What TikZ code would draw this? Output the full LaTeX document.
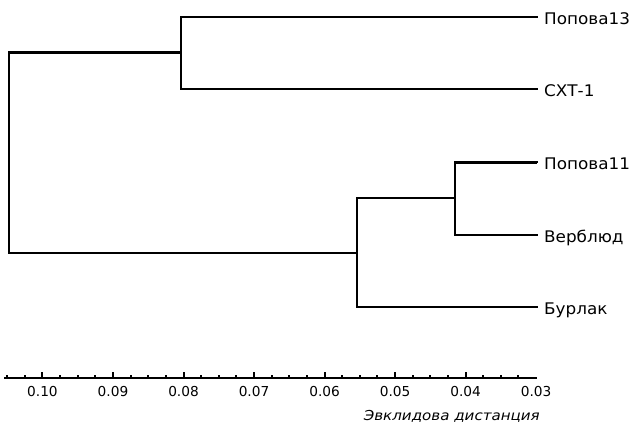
\documentclass[tikz,border=0pt]{standalone}
\usepackage{fontspec}
\newfontfamily\leaffont[FakeStretch=1.05]{DejaVu Sans}
\newfontfamily\axisfont{DejaVu Sans}
\newfontfamily\titlefont[FakeStretch=1.1]{DejaVu Sans}
\begin{document}
\begin{tikzpicture}[x=1pt,y=-1pt,
  br/.style={line width=2pt, line cap=rect},
  brthick/.style={line width=3pt, line cap=butt},
  axisline/.style={line width=2pt},
  tickline/.style={line width=2pt},
  leaf/.style={anchor=base west, inner sep=0pt, font=\leaffont\fontsize{16}{19}\selectfont},
  ticklabel/.style={anchor=base, inner sep=0pt, font=\axisfont\fontsize{13.7}{16}\selectfont},
  axtitle/.style={anchor=base east, inner sep=0pt, font=\titlefont\itshape\fontsize{13.7}{16}\selectfont}]
\useasboundingbox (0,0) rectangle (634,427);

% leaf ends
\coordinate (e13) at (537,17);
\coordinate (eCXT) at (537,89);
\coordinate (e11) at (537,162.5);
\coordinate (eV) at (537,235);
\coordinate (eB) at (537,307);

% labels
\node[leaf] (l13) at (544,24.5) {Попова13};
\node[leaf] (lCXT) at (544,96.5) {СХТ-1};
\node[leaf] (l11) at (544,170) {Попова11};
\node[leaf] (lV) at (544,242.5) {Верблюд};
\node[leaf] (lB) at (544,314.5) {Бурлак};

% junctions
\coordinate (jA) at (181,52.5);
\coordinate (jB) at (455,198);
\coordinate (jC) at (357,253);
\coordinate (rtop) at (9,52.5);
\coordinate (rbot) at (9,253);

% branches
\draw[br] (e13) -| (jA) |- (eCXT);
\draw[br] (e11) -| (jB) |- (eV);
\draw[brthick] (jB |- e11) -- (e11);
\draw[br] (jB) -| (jC) |- (eB);
\draw[brthick] (jA) -- (rtop);
\draw[br] (rtop) -- (rbot) -- (jC);

% axis
\coordinate (aL) at (4,378);
\coordinate (aR) at (536.7,378);
\draw[axisline] (aL) -- (aR);
\foreach \i in {1,...,30} {
  \pgfmathsetmacro\xx{536.1-\i*17.63}
  \pgfmathsetmacro\tl{mod(\i,4)==0 ? 6 : 3}
  \draw[tickline] (\xx,378) -- (\xx,{378-\tl});
}
\foreach \v/\i in {0.10/28,0.09/24,0.08/20,0.07/16,0.06/12,0.05/8,0.04/4,0.03/0} {
  \pgfmathsetmacro\xx{536.1-\i*17.63}
  \node[ticklabel] (t\i) at (\xx,396.7) {\v};
}
\node[axtitle] (title) at (540,420.5) {Эвклидова дистанция};
\end{tikzpicture}
\end{document}
